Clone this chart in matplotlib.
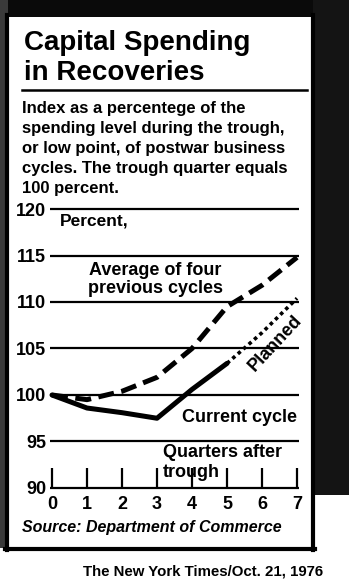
import matplotlib
matplotlib.use("Agg")
import matplotlib.pyplot as plt
from matplotlib.patches import Rectangle

plt.rcParams['font.family'] = ['Liberation Sans', 'DejaVu Sans']
plt.rcParams['font.weight'] = 'bold'

# index values, trough quarter = 100
quarters = [0, 1, 2, 3, 4, 5, 6, 7]
average_prev = [100, 99.5, 100.4, 101.9, 105.0, 109.5, 111.8, 114.8]
current_q = [0, 1, 2, 3, 4, 5]
current = [100, 98.6, 98.1, 97.5, 100.6, 103.4]
planned_q = [5, 6, 7]
planned = [103.4, 106.7, 110.4]
y_ticks = [90, 95, 100, 105, 110, 115, 120]

title_lines = ["Capital Spending", "in Recoveries"]
subtitle_lines = [
    "Index as a percentege of the",
    "spending level during the trough,",
    "or low point, of postwar business",
    "cycles. The trough quarter equals",
    "100 percent.",
]

W, H = 349, 584
fig = plt.figure(figsize=(W / 100, H / 100), dpi=100)
fig.patch.set_facecolor('white')

# pixel-space layer for the frame and text
bg = fig.add_axes([0, 0, 1, 1])
bg.set_xlim(0, W)
bg.set_ylim(H, 0)
bg.axis('off')

bg.add_patch(Rectangle((0, 0), W, 17, color='#0a0a0a', lw=0))
bg.add_patch(Rectangle((313, 0), W - 313, 495, color='#141414', lw=0))
bg.add_patch(Rectangle((0, 0), 8, 548, color='#3a3a3a', lw=0))
bg.plot([7, 7], [15, 550], color='black', lw=3)
bg.plot([5, 315], [549, 549], color='black', lw=3)
bg.plot([313, 313], [15, 550], color='black', lw=3)

for i, line in enumerate(title_lines):
    bg.text(24, 50 + 30 * i, line, fontsize=20, fontweight='bold',
            va='baseline', ha='left')
bg.plot([22, 307], [90, 90], color='black', lw=1.8)

for i, line in enumerate(subtitle_lines):
    bg.text(22, 113 + 20 * i, line, fontsize=12, fontweight='bold',
            va='baseline', ha='left')

bg.text(22, 532, "Source: Department of Commerce", fontsize=11.5,
        fontweight='bold', style='italic', va='baseline', ha='left')
bg.text(83, 576, "The New York Times/Oct. 21, 1976", fontsize=10.8,
        fontweight='bold', va='baseline', ha='left')

# chart area
x0, x1, y0, y1 = 52, 297, 209, 488
ax = fig.add_axes([x0 / W, 1 - y1 / H, (x1 - x0) / W, (y1 - y0) / H])
ax.set_xlim(0, 7)
ax.set_ylim(90, 120)
ax.axis('off')
ax.patch.set_alpha(0)

ax.hlines(y_ticks, -0.05, 7.05, color='black', lw=1.6, clip_on=False)
ax.vlines(quarters, 90, 92.2, color='black', lw=1.6, clip_on=False)

for v in y_ticks:
    ax.text(-0.17, v, str(v), fontsize=13, fontweight='bold',
            ha='right', va='center_baseline', clip_on=False)
for q in quarters:
    ax.text(q, 87.75, str(q), fontsize=13, fontweight='bold',
            ha='center', va='baseline', clip_on=False)

ax.plot(quarters, average_prev, color='black', lw=3.6,
        linestyle=(0, (3.2, 1.5)), clip_on=False)
ax.plot(current_q, current, color='black', lw=3.6,
        solid_joinstyle='round', solid_capstyle='round', clip_on=False)
ax.plot(planned_q, planned, color='black', lw=2.6,
        linestyle=(0, (1.0, 1.0)), clip_on=False)

bg.text(60, 226, "Percent,", fontsize=12.5, fontweight='bold',
        ha='left', va='baseline')
bg.text(155, 275, "Average of four", fontsize=13, fontweight='bold',
        ha='center', va='baseline')
bg.text(155, 293, "previous cycles", fontsize=13, fontweight='bold',
        ha='center', va='baseline')
bg.text(275, 343, "Planned", fontsize=13, fontweight='bold',
        ha='center', va='center', rotation=47, rotation_mode='anchor')
bg.text(297, 422, "Current cycle", fontsize=13, fontweight='bold',
        ha='right', va='baseline')
bg.text(163, 457, "Quarters after", fontsize=13, fontweight='bold',
        ha='left', va='baseline')
bg.text(163, 477, "trough", fontsize=13, fontweight='bold',
        ha='left', va='baseline')

fig.savefig("out.png", dpi=100)
